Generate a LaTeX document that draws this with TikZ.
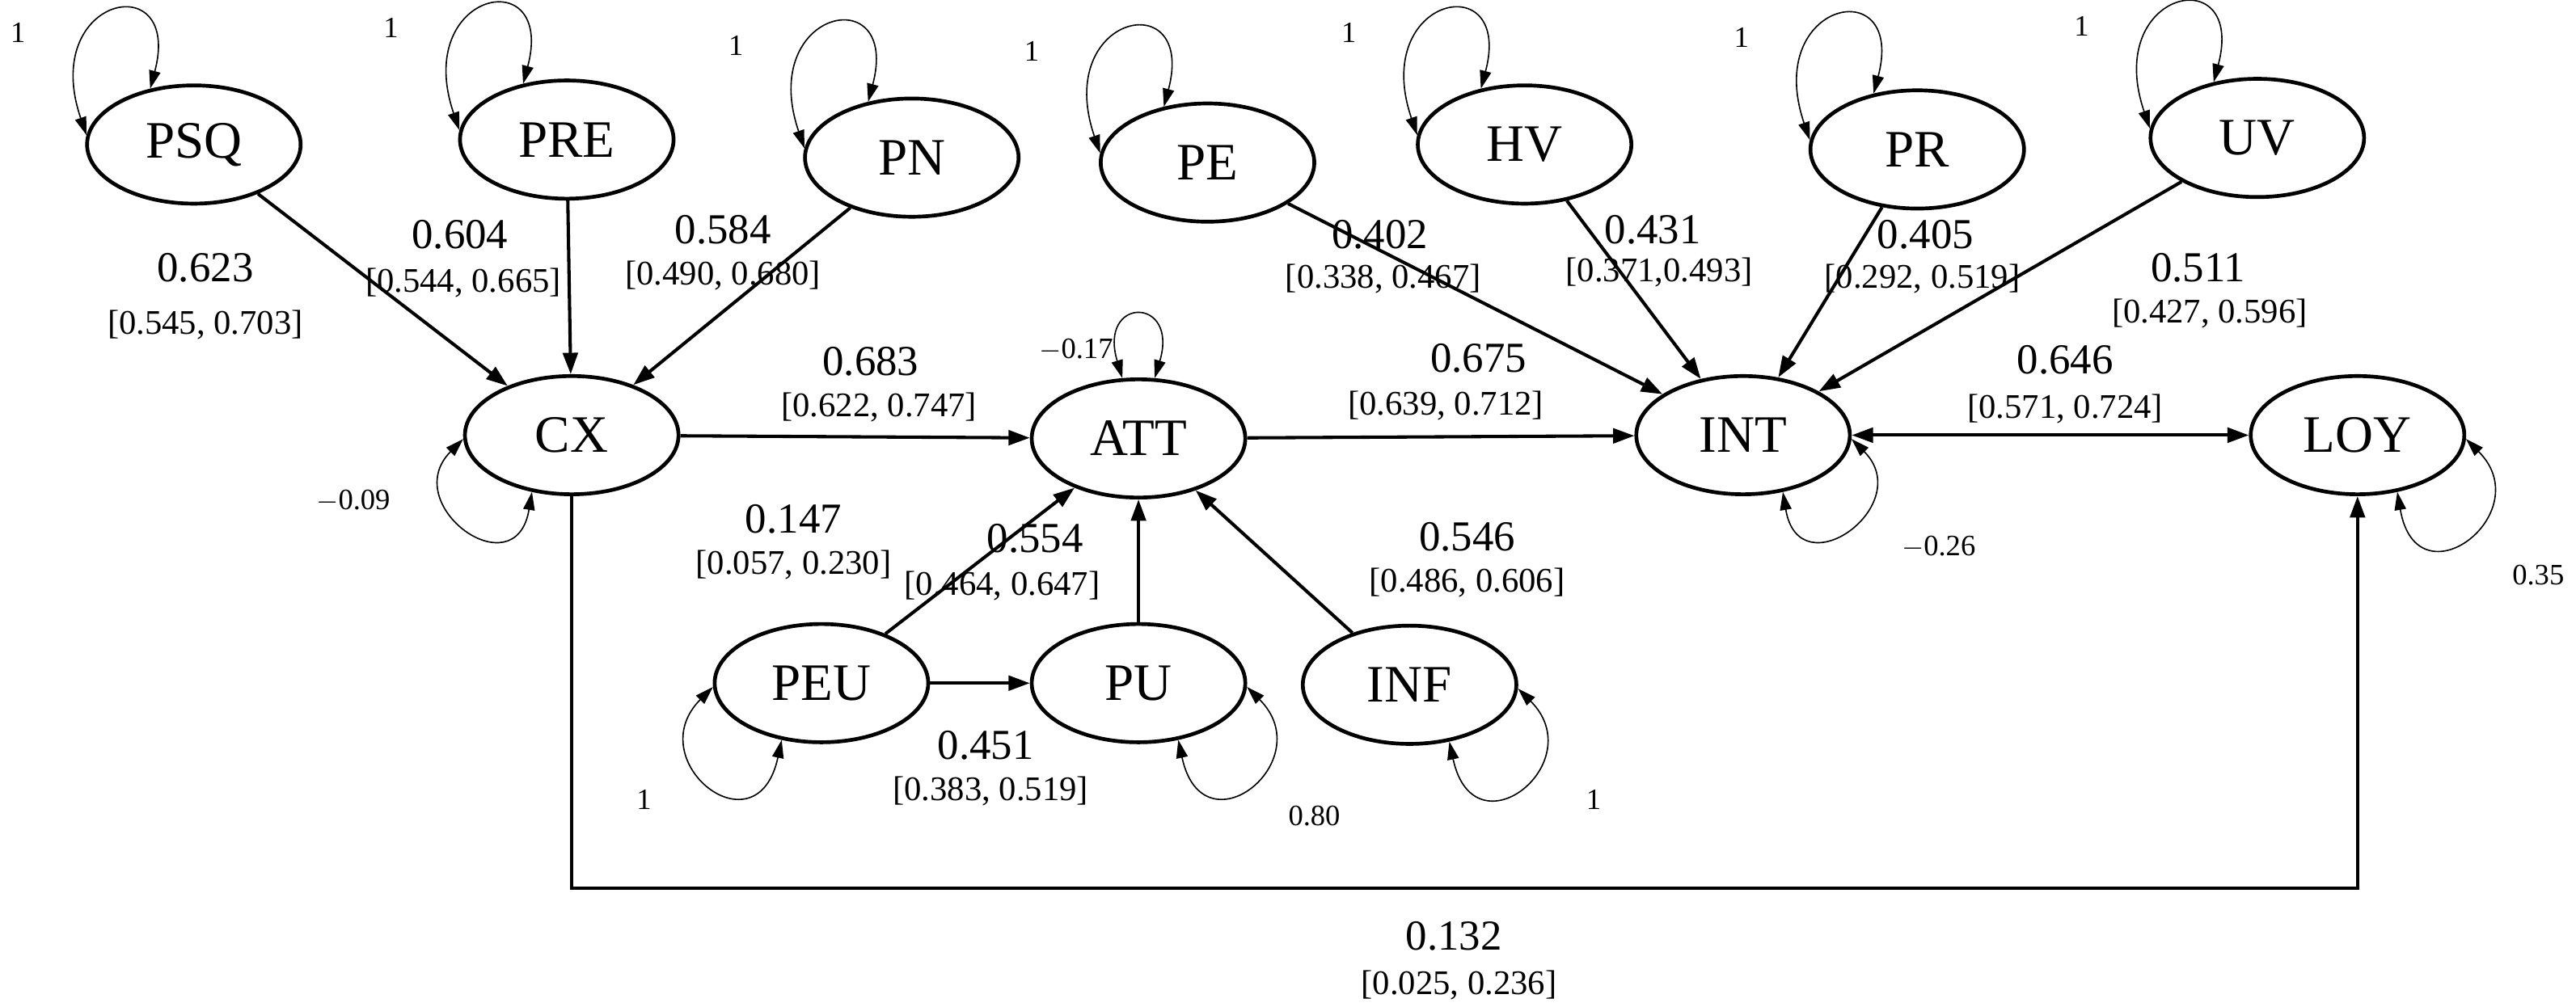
\documentclass[tikz,border=0pt]{standalone}
\usepackage{fontspec}
\setmainfont{Liberation Serif}
\usetikzlibrary{arrows.meta,shapes.geometric}
\begin{document}
\begin{tikzpicture}[x=1pt,y=-1pt,
  lv/.style={ellipse,draw,line width=2.3pt,minimum width=130pt,minimum height=72pt,inner sep=0pt,font=\fontsize{32}{34}\selectfont},
  ed/.style={line width=2pt,-{Triangle[length=13pt,width=9pt]}},
  bed/.style={line width=2pt,{Triangle[length=13pt,width=9pt]}-{Triangle[length=13pt,width=9pt]}},
  lp/.style={line width=0.8pt,{Triangle[length=11pt,width=7pt]}-{Triangle[length=11pt,width=7pt]}},
  co/.style={font=\fontsize{26}{28}\selectfont},
  ci/.style={font=\fontsize{21}{23}\selectfont},
  vl/.style={font=\fontsize{18}{20}\selectfont}]
\useasboundingbox (0,0) rectangle (1568,613);
% nodes
\node[lv] (PSQ) at (118,88) {PSQ};
\node[lv] (PRE) at (345,85) {PRE};
\node[lv] (PN) at (555,96) {PN};
\node[lv] (PE) at (735,99) {PE};
\node[lv] (HV) at (928,88) {HV};
\node[lv] (PR) at (1167,91) {PR};
\node[lv] (UV) at (1374,84) {UV};
\node[lv] (CX) at (348,265) {CX};
\node[lv] (ATT) at (693,267) {ATT};
\node[lv] (INT) at (1061,265) {INT};
\node[lv] (LOY) at (1435,265) {LOY};
\node[lv] (PEU) at (500,416) {PEU};
\node[lv] (PU) at (693,416) {PU};
\node[lv] (INF) at (858,417) {INF};
% top variance loops
\foreach \n in {PSQ,PRE,PN,PE,HV,PR,UV}{
  \draw[lp] (\n.175) .. controls +(-29,-85) and +(20,-75) .. (\n.128);
  \node[vl] at ([shift={(-107,-68)}]\n.center) {1};
}
% other loops
\draw[lp] (CX.182) .. controls +(-40,40) and +(-10,60) .. (CX.235);
\node[vl] (lcx) at (215,305) {$-$0.09};
\draw[lp] (ATT.105) .. controls +(-15,-50) and +(15,-50) .. (ATT.75);
\node[vl] (latt) at (655,213) {$-$0.17};
\draw[lp] (INT.-2) .. controls +(40,40) and +(10,60) .. (INT.-55);
\node[vl] (lint) at (1180,333) {$-$0.26};
\draw[lp] (LOY.-2) .. controls +(45,45) and +(12,70) .. (LOY.-55);
\node[vl] (lloy) at (1545,350) {0.35};
\draw[lp] (PEU.182) .. controls +(-45,45) and +(-15,70) .. (PEU.235);
\node[vl] (lpeu) at (392,487) {1};
\draw[lp] (PU.-2) .. controls +(45,45) and +(15,70) .. (PU.-55);
\node[vl] (lpu) at (800,497) {0.80};
\draw[lp] (INF.-2) .. controls +(45,45) and +(15,70) .. (INF.-55);
\node[vl] (linf) at (970,487) {1};
% structural paths
\draw[ed] (PSQ) -- (CX);
\draw[ed] (PRE) -- (CX);
\draw[ed] (PN) -- (CX);
\draw[ed] (CX) -- (ATT);
\draw[ed] (PE) -- (INT);
\draw[ed] (HV) -- (INT);
\draw[ed] (PR) -- (INT);
\draw[ed] (UV) -- (INT);
\draw[ed] (ATT) -- (INT);
\draw[bed] (INT) -- (LOY);
\draw[ed] (PEU) -- (ATT);
\draw[ed] (PEU) -- (PU);
\draw[ed] (PU) -- (ATT);
\draw[ed] (INF) -- (ATT);
\coordinate (bl) at (0,541);
\draw[ed] (CX.south) -- (CX.south |- bl) -| (LOY.south);
% coefficient labels
\node[co] at (125,163) {0.623}; \node[ci] at (125,198) {[0.545, 0.703]};
\node[co] at (280,143) {0.604}; \node[ci] at (282,172) {[0.544, 0.665]};
\node[co] at (440,140) {0.584}; \node[ci] at (440,168) {[0.490, 0.680]};
\node[co] at (840,143) {0.402}; \node[ci] at (842,170) {[0.338, 0.467]};
\node[co] at (1006,140) {0.431}; \node[ci] at (1010,166) {[0.371,0.493]};
\node[co] at (1172,143) {0.405}; \node[ci] at (1170,170) {[0.292, 0.519]};
\node[co] at (1338,163) {0.511}; \node[ci] at (1345,191) {[0.427, 0.596]};
\node[co] at (530,220) {0.683}; \node[ci] at (535,248) {[0.622, 0.747]};
\node[co] at (900,218) {0.675}; \node[ci] at (880,247) {[0.639, 0.712]};
\node[co] at (1257,219) {0.646}; \node[ci] at (1257,249) {[0.571, 0.724]};
\node[co] at (483,316) {0.147}; \node[ci] at (483,344) {[0.057, 0.230]};
\node[co] at (630,328) {0.554}; \node[ci] at (610,357) {[0.464, 0.647]};
\node[co] at (893,327) {0.546}; \node[ci] at (893,355) {[0.486, 0.606]};
\node[co] at (600,454) {0.451}; \node[ci] at (603,482) {[0.383, 0.519]};
\node[co] at (885,570) {0.132}; \node[ci] at (888,600) {[0.025, 0.236]};
\end{tikzpicture}
\end{document}
